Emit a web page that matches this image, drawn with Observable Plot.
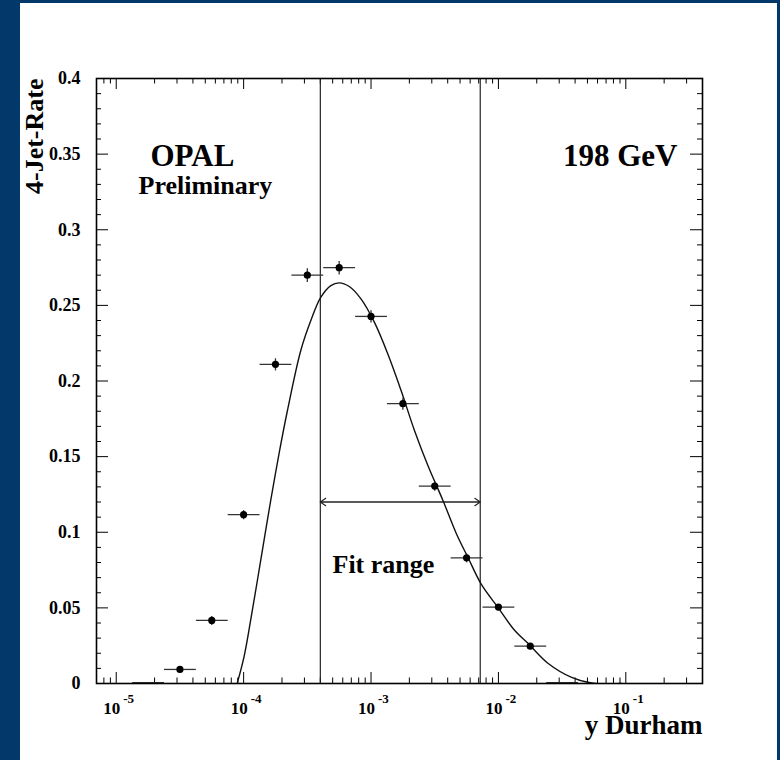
<!DOCTYPE html>
<html><head><meta charset="utf-8">
<script src="https://cdn.jsdelivr.net/npm/d3@7"></script>
<script src="https://cdn.jsdelivr.net/npm/@observablehq/plot@0.6"></script>
<style>
html,body{margin:0;padding:0;background:#03386b;width:780px;height:760px;overflow:hidden}
#panel{position:absolute;left:20px;top:3px;width:757px;height:757px;background:#fff}
#chart{position:absolute;left:0;top:0}
</style></head><body>
<div id="panel"></div><div id="chart"></div>
<script>
// ---- data ----
const binExp = [-4.75, -4.5, -4.25, -4, -3.75, -3.5, -3.25, -3, -2.75, -2.5, -2.25, -2, -1.75, -1.5]; // log10 of bin centre
const rate = [0.0005, 0.0093, 0.0417, 0.1116, 0.211, 0.270, 0.2749, 0.2427, 0.185, 0.1305, 0.0831, 0.0505, 0.0247, 0.0006];
const rateErr = [0, 0.002, 0.003, 0.003, 0.004, 0.0045, 0.0045, 0.004, 0.004, 0.003, 0.003, 0.002, 0.002, 0];
const binHalfWidth = 0.125; // decades

const fitX = [8.9e-5, 1.006e-4, 1.135e-4, 1.282e-4, 1.445e-4, 1.632e-4, 1.897e-4, 2.208e-4, 2.81e-4, 3.37e-4,
  4.04e-4, 4.84e-4, 5.63e-4, 6.75e-4, 8.34e-4, 1.062e-3, 1.353e-3, 1.722e-3, 2.193e-3, 2.795e-3,
  3.67e-3, 4.67e-3, 5.77e-3, 7.35e-3, 9.94e-3, 1.344e-2, 1.713e-2, 2.461e-2, 3.757e-2, 5.4e-2, 9.3e-2];
const fitY = [0, 0.0174, 0.0417, 0.0681, 0.0945, 0.121, 0.152, 0.1805, 0.2202, 0.240,
  0.2554, 0.2631, 0.2649, 0.2625, 0.2543, 0.2389, 0.218, 0.1937, 0.1673, 0.1441,
  0.121, 0.0992, 0.0833, 0.0655, 0.0502, 0.035, 0.0264, 0.0132, 0.004, 0.0003, 0];

const fitRange = [4.0e-4, 7.2e-3];
const arrowY = 0.12;

const xDomain = [7e-6, 0.4];
const yDomain = [0, 0.4];
const xDecades = [1e-5, 1e-4, 1e-3, 1e-2, 1e-1];
const xTickBase = ["10", "10", "10", "10", "10"];
const xTickExp = ["-5", "-4", "-3", "-2", "-1"];
const yTicks = [0, 0.05, 0.1, 0.15, 0.2, 0.25, 0.3, 0.35, 0.4];
const yTickLabels = ["0", "0.05", "0.1", "0.15", "0.2", "0.25", "0.3", "0.35", "0.4"];

const title = ["OPAL"];
const subtitle = ["Preliminary"];
const energy = ["198 GeV"];
const fitLabel = ["Fit range"];
const xLabel = ["y Durham"];
const yLabel = ["4-Jet-Rate"];

// ---- derived tables ----
const pts = binExp.map((e, i) => ({x: 10 ** e, lo: 10 ** (e - binHalfWidth), hi: 10 ** (e + binHalfWidth), y: rate[i], err: rateErr[i]}));
const fit = fitX.map((x, i) => ({x, y: fitY[i]}));
const arrows = [{a: fitRange[0], b: fitRange[1], y: arrowY}, {a: fitRange[1], b: fitRange[0], y: arrowY}];

const W = 780, H = 760, mt = 78, mb = 77, ml = 96, mr = 78;
const ph = H - mt - mb, pw = W - ml - mr;
const minorX = d3.scaleLog().domain(xDomain).ticks().filter(t => !xDecades.some(d => Math.abs(t / d - 1) < 1e-6) && t > xDomain[0] * 1.01 && t < xDomain[1] * 0.99);
const minorY = d3.range(1, 40).map(i => i / 100).filter(v => !yTicks.some(t => Math.abs(t - v) < 1e-9));
const majorY = yTicks.filter(t => t > 0 && t < 0.4);

const font = "'Liberation Serif', 'DejaVu Serif', serif";
const txt = {fontFamily: font, fontWeight: "bold", fill: "black", stroke: null};

const chart = Plot.plot({
  width: W, height: H,
  marginTop: mt, marginBottom: mb, marginLeft: ml, marginRight: mr,
  style: {background: "transparent", fontFamily: font},
  x: {type: "log", domain: xDomain, axis: null},
  y: {domain: yDomain, axis: null},
  marks: [
    // ticks bottom/top
    Plot.ruleX(xDecades, {x: d => d, insetTop: ph - 11, stroke: "black", strokeWidth: 1}),
    Plot.ruleX(xDecades, {x: d => d, insetBottom: ph - 11, stroke: "black", strokeWidth: 1}),
    Plot.ruleX(minorX, {x: d => d, insetTop: ph - 5.5, stroke: "black", strokeWidth: 1}),
    Plot.ruleX(minorX, {x: d => d, insetBottom: ph - 5.5, stroke: "black", strokeWidth: 1}),
    // ticks left/right
    Plot.ruleY(majorY, {y: d => d, insetRight: pw - 12, stroke: "black", strokeWidth: 1}),
    Plot.ruleY(majorY, {y: d => d, insetLeft: pw - 12, stroke: "black", strokeWidth: 1}),
    Plot.ruleY(minorY, {y: d => d, insetRight: pw - 5, stroke: "black", strokeWidth: 1}),
    Plot.ruleY(minorY, {y: d => d, insetLeft: pw - 5, stroke: "black", strokeWidth: 1}),
    // fit range lines
    Plot.ruleX(fitRange, {x: d => d, stroke: "#222", strokeWidth: 1.2}),
    Plot.arrow(arrows, {x1: "a", x2: "b", y1: "y", y2: "y", stroke: "#222", strokeWidth: 1.1, headLength: 9, headAngle: 70}),
    // fit curve
    Plot.line(fit, {x: "x", y: "y", curve: "catmull-rom", stroke: "#111", strokeWidth: 1.4, clip: true}),
    // data
    Plot.link(pts, {x1: "lo", x2: "hi", y1: "y", y2: "y", stroke: "#333", strokeWidth: 1.3}),
    Plot.link(pts.filter(d => d.err > 0), {x1: "x", x2: "x", y1: d => d.y - d.err, y2: d => d.y + d.err, stroke: "#333", strokeWidth: 1.3}),
    Plot.dot(pts.filter(d => d.y > 0.005), {x: "x", y: "y", r: 3.6, fill: "black", stroke: null}),
    Plot.frame({stroke: "black", strokeWidth: 1.6}),
    // tick labels
    Plot.text(xDecades, {x: d => d, frameAnchor: "bottom", text: (d, i) => xTickBase[i], textAnchor: "end", lineAnchor: "bottom", dx: 4, dy: 30, fontSize: 17, ...txt}),
    Plot.text(xDecades, {x: d => d, frameAnchor: "bottom", text: (d, i) => xTickExp[i], textAnchor: "start", lineAnchor: "bottom", dx: 7, dy: 19, fontSize: 13, ...txt}),
    Plot.text(yTicks, {y: d => d, frameAnchor: "left", text: (d, i) => yTickLabels[i], textAnchor: "end", dx: -16, fontSize: 18, ...txt}),
    // annotations
    Plot.text(title, {text: d => d, frameAnchor: "top-left", dx: 54, dy: 87, textAnchor: "start", lineAnchor: "bottom", fontSize: 31, ...txt}),
    Plot.text(subtitle, {text: d => d, frameAnchor: "top-left", dx: 42, dy: 115, textAnchor: "start", lineAnchor: "bottom", fontSize: 26, ...txt}),
    Plot.text(energy, {text: d => d, frameAnchor: "top-right", dx: -25, dy: 87, textAnchor: "end", lineAnchor: "bottom", fontSize: 31, ...txt}),
    Plot.text(fitLabel, {text: d => d, frameAnchor: "top-left", dx: 236, dy: 494, textAnchor: "start", lineAnchor: "bottom", fontSize: 26, ...txt}),
    Plot.text(xLabel, {text: d => d, frameAnchor: "bottom-right", dx: 0, dy: 50, textAnchor: "end", lineAnchor: "bottom", fontSize: 27, ...txt}),
    Plot.text(yLabel, {text: d => d, frameAnchor: "top-left", dx: -54, dy: 0, rotate: -90, textAnchor: "end", lineAnchor: "bottom", fontSize: 26, ...txt})
  ]
});
document.getElementById("chart").append(chart);
</script>
</body></html>
